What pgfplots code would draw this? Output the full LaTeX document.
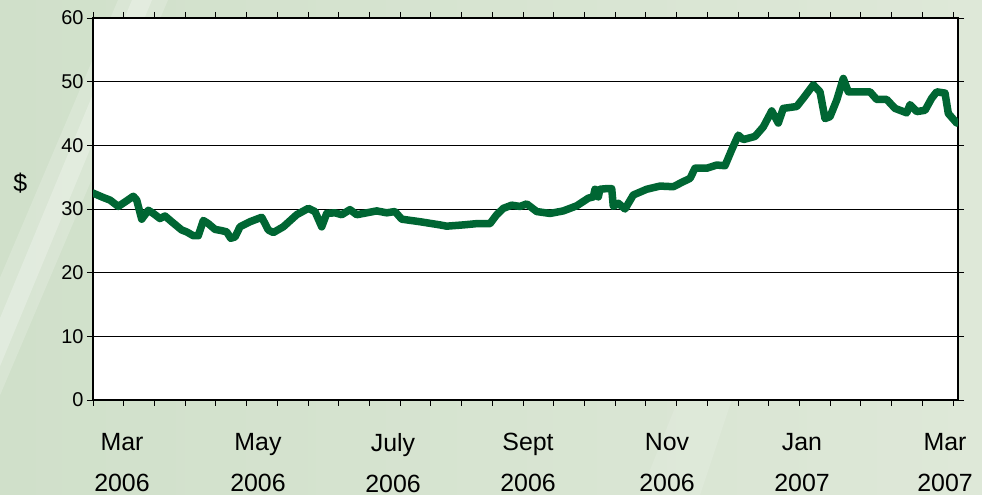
\documentclass[border=0pt]{standalone}
\usepackage{pgfplots}
\pgfplotsset{compat=1.18}
\usepackage{fontspec}
\setmainfont{Liberation Sans}
\definecolor{linegreen}{RGB}{0,102,51}
\definecolor{bgA}{RGB}{208,224,202}
\definecolor{bgB}{RGB}{222,232,216}
\begin{document}
\begin{tikzpicture}[x=1bp,y=1bp]
\shade[left color=bgA, right color=bgB] (0,0) rectangle (982,495);
\begin{scope}
\clip (0,0) rectangle (982,495);
\fill[white, opacity=0.18] (118,495) -- (168,495) -- (-2,95) -- (-52,95) -- cycle;
\fill[white, opacity=0.25] (132,495) -- (152,495) -- (-14,95) -- (-34,95) -- cycle;
\fill[white, opacity=0.12] (640,0) -- (700,0) -- (800,300) -- (760,300) -- cycle;
\end{scope}
\begin{axis}[at={(93bp,95bp)}, anchor=south west, scale only axis,
  width=865bp, height=382bp,
  xmin=93, xmax=958, ymin=0, ymax=60,
  axis background/.style={fill=white},
  axis line style={black, line width=1.6bp},
  ytick={0,10,...,60}, ymajorgrids,
  grid style={black, line width=0.8bp},
  xtick={93,123.714,...,954}, xticklabels={},
  tick align=outside, major tick length=6bp,
  tick style={black, line width=0.9bp},
  /pgf/number format/assume math mode=true,
  yticklabel style={font=\fontsize{20}{24}\selectfont},
  extra x ticks={122,258,393,528,667,802,945},
  extra x tick labels={Mar\\2006, May\\2006, Jul\smash{y}\\2006, Sept\\2006, Nov\\2006, Jan\\2007, Mar\\2007},
  extra x tick style={major tick length=0pt, grid=none,
    tick label style={align=center, inner sep=0pt, font=\fontsize{25}{41}\selectfont, yshift=-33bp}},
  ylabel={\$},
  ylabel style={rotate=-90, at={(axis description cs:-0.084,0.568)}, anchor=center, font=\fontsize{25}{30}\selectfont},
]
\addplot[linegreen, line width=7.5bp, line join=round, line cap=round] coordinates {
(93,32.5) (103.3,31.8) (110,31.4) (118.3,30.4) (125,31.1) (133.3,32.0) (136.7,31.4)
(141.7,28.4) (148.3,29.8) (153.3,29.3) (160,28.5) (165,28.9) (171.7,28.0) (181.7,26.7)
(186.7,26.4) (193.3,25.8) (198.3,25.8) (203.3,28.2) (208.3,27.7) (215,26.8) (221.7,26.6)
(226.7,26.4) (230.7,25.4) (235,25.6) (240,27.2) (250,28.0) (261.7,28.7) (266.7,27.2)
(268.3,26.7) (273.3,26.3) (283.3,27.2) (296.7,29.1) (308.3,30.1) (315,29.6) (321.7,27.2)
(326.7,29.3) (335,29.4) (341.7,29.1) (350,29.9) (356.7,29.1) (366.7,29.4) (376.7,29.7)
(386.7,29.4) (395,29.6) (401.7,28.4) (420,28.0) (440,27.5) (446.7,27.3) (463.3,27.5)
(476.7,27.7) (490,27.7) (496.7,29.1) (503.3,30.1) (511.7,30.6) (520,30.4) (526.7,30.8)
(536.7,29.6) (550,29.3) (563.3,29.7) (576.7,30.5) (588.3,31.7) (593.3,31.9) (595,33.1)
(598.3,31.9) (600,33.1) (606.7,33.2) (611.7,33.2) (613.3,30.4) (618.3,30.9) (625,30.0)
(633.3,32.2) (646.7,33.1) (660,33.6) (673.3,33.5) (683.3,34.3) (690,34.8) (695,36.4)
(706.7,36.4) (716.7,36.9) (725,36.8) (731.7,39.3) (738.3,41.6) (743.3,40.9) (755,41.4)
(763.3,42.9) (771.7,45.4) (778.3,43.5) (783.3,45.8) (796.7,46.1) (803.3,47.4) (813.3,49.5)
(820,48.4) (825,44.2) (830,44.5) (836.7,47.1) (843.3,50.5) (848.3,48.4) (856.7,48.4)
(870,48.4) (876.7,47.2) (886.7,47.2) (895,45.8) (906.7,45.1) (910,46.4) (916.7,45.3)
(925,45.5) (931.7,47.4) (936.7,48.4) (945,48.2) (948.3,45.0) (956.7,43.5)
};
\end{axis}
\end{tikzpicture}
\end{document}
